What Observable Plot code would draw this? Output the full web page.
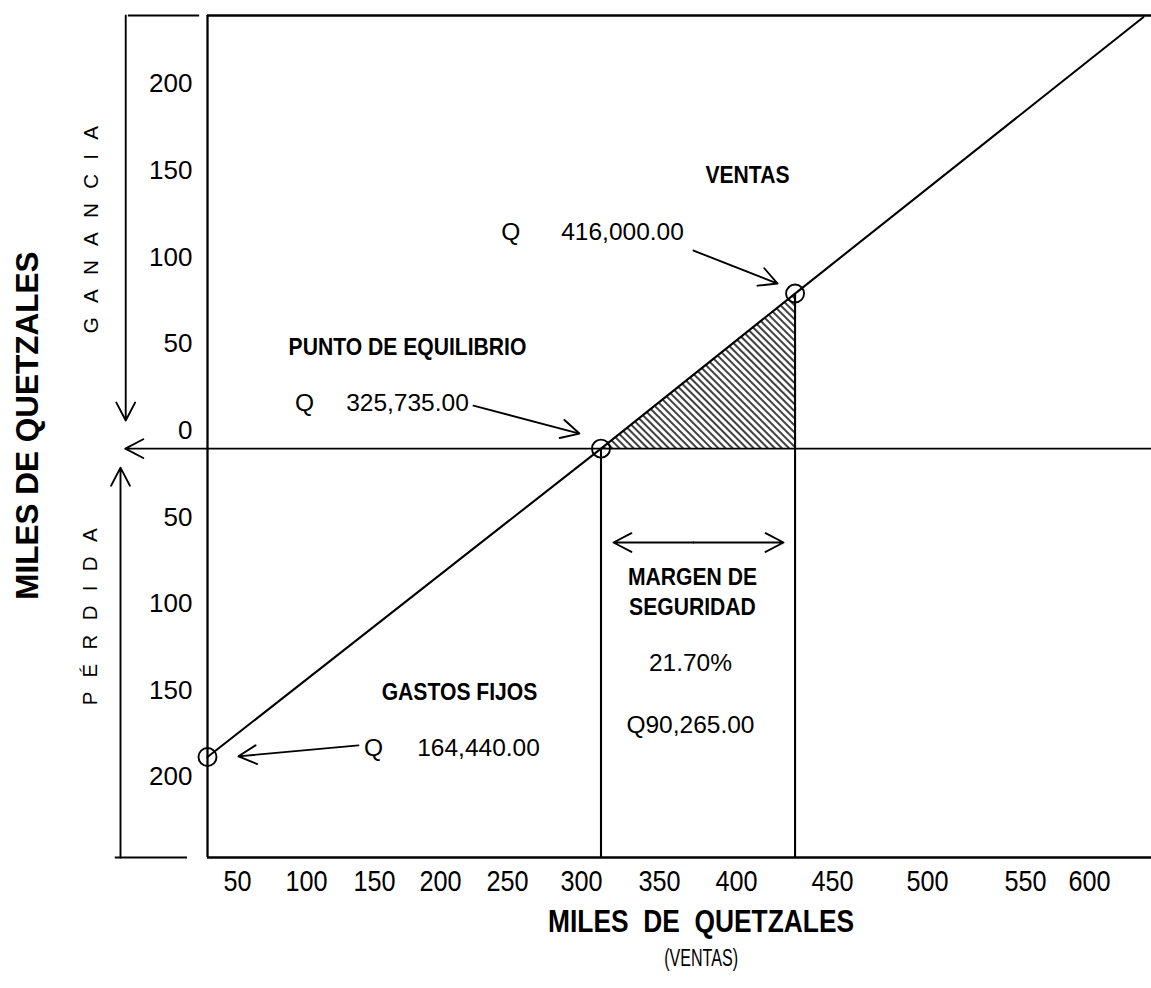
<!DOCTYPE html>
<html><head><meta charset="utf-8">
<script src="https://cdn.jsdelivr.net/npm/d3@7"></script>
<script src="https://cdn.jsdelivr.net/npm/@observablehq/plot@0.6"></script>
<style>
html,body{margin:0;padding:0;background:#fff;}
#chart svg{display:block;}
#chart text{white-space:pre;}
</style></head><body><div id="chart"></div>
<script>
// ---- tick labels (miles de quetzales) ----
const xTickValues = [50,100,150,200,250,300,350,400,450,500,550,600];
const yTickValues = [200,150,100,50,0,-50,-100,-150,-200];

// ---- key points: x = ventas, y = ganancia (+) / pérdida (−) ----
const fixedCost   = {x: 0,     y: -178};
const breakEven   = {x: 312.5, y: 0};
const salesPoint  = {x: 430.5, y: 89.5};
const salesLineEnd = {x: 642,  y: 249};
const keyPoints  = [fixedCost, breakEven, salesPoint];
const salesLine  = [fixedCost, breakEven, salesPoint, salesLineEnd];
const profitArea = [breakEven, salesPoint];

// ---- annotation texts ----
const boldNotes = [
  {text: "VENTAS",              x: 405.7, y: 157.6},
  {text: "PUNTO DE EQUILIBRIO", x: 175,   y: 58.4},
  {text: "MARGEN DE",           x: 371.4, y: -74.4},
  {text: "SEGURIDAD",           x: 371.4, y: -91.7},
  {text: "GASTOS FIJOS",        x: 214.2, y: -140.7}
];
const plainNotes = [
  {text: "Q",          x: 252.2, y: 124.7},
  {text: "416,000.00", x: 326.3, y: 124.7},
  {text: "Q",          x: 98.6,  y: 26},
  {text: "325,735.00", x: 175,   y: 26},
  {text: "21.70%",     x: 370.1, y: -124},
  {text: "Q90,265.00", x: 370.1, y: -159.8},
  {text: "Q",          x: 149.3, y: -173},
  {text: "164,440.00", x: 228.4, y: -173}
];
const pointers = [
  {x1: 372.1, y1: 114.3, x2: 421.4, y2: 95.3},
  {x1: 224.6, y1: 24.8,  x2: 298.6, y2: 8.7},
  {x1: 138.2, y1: -171.3, x2: 50.7, y2: -177.6},
  {x1: 372,   y1: -54.2, x2: 320.5, y2: -54.2},
  {x1: 372,   y1: -54.2, x2: 424.5, y2: -54.2}
];

// ---- frame and side brackets ----
const frameBox = {left: 0, right: 650, top: 250, bottom: -236};
const bracketArrows = [
  {x1: -94,  y1: 250,  x2: -94,   y2: 16.2},   // ganancia
  {x1: -100, y1: -236, x2: -100,  y2: -11},    // pérdida
  {x1: 650,  y1: 0,    x2: -94.5, y2: 0}       // línea cero
];

// hand-drawn, unevenly spaced horizontal axis: piecewise scale transform
const xAxisStops = [-100, 0, 50, 100, 150, 200, 250, 300, 350, 400, 450, 500, 550, 600, 650];
const xAxisPlace = d3.scaleLinear()
  .domain(xAxisStops)
  .range([120, 207, 237, 306, 374, 440, 507, 581, 659, 736, 832, 927, 1025, 1089, 1153]);

const FONT = "Liberation Sans, Arial, sans-serif";

const svg = Plot.plot({
  width: 1151, height: 988,
  style: {background: "#fff", color: "#000"},
  x: {transform: xAxisPlace, domain: [0, 1151], range: [0, 1151], axis: null},
  y: {domain: [frameBox.bottom, frameBox.top], range: [857, 15], axis: null},
  marks: [
    Plot.areaY(profitArea, {x: "x", y1: 0, y2: "y", fill: "url(#hatch)", stroke: "none"}),
    Plot.ruleY([frameBox.top], {x1: 0, x2: frameBox.right, stroke: "#000", strokeWidth: 2.3}),
    Plot.ruleY([frameBox.bottom], {x1: 0, x2: frameBox.right, stroke: "#000", strokeWidth: 2.3}),
    Plot.ruleX([frameBox.left], {y1: frameBox.bottom, y2: frameBox.top, stroke: "#000", strokeWidth: 2.3}),
    Plot.ruleY([frameBox.top], {x1: -91, x2: -9, stroke: "#000", strokeWidth: 2.1}),
    Plot.ruleY([frameBox.bottom], {x1: -106, x2: -23, stroke: "#000", strokeWidth: 2.1}),
    Plot.arrow(bracketArrows, {x1: "x1", y1: "y1", x2: "x2", y2: "y2", stroke: "#000", strokeWidth: 1.9, headLength: 16, headAngle: 55}),
    Plot.ruleX([breakEven], {x: "x", y1: frameBox.bottom, y2: "y", stroke: "#000", strokeWidth: 2.1}),
    Plot.ruleX([salesPoint], {x: "x", y1: frameBox.bottom, y2: "y", stroke: "#000", strokeWidth: 2.1}),
    Plot.line(salesLine, {x: "x", y: "y", stroke: "#000", strokeWidth: 2.1}),
    Plot.dot(keyPoints, {x: "x", y: "y", r: 9, stroke: "#000", strokeWidth: 1.9, fill: "none"}),
    Plot.arrow(pointers, {x1: "x1", y1: "y1", x2: "x2", y2: "y2", stroke: "#000", strokeWidth: 1.9, headLength: 16, headAngle: 55}),
    // text marks (order matters for the condensing step below)
    Plot.text(yTickValues, {x: 0, y: d => d, text: d => String(Math.abs(d)), textAnchor: "end", dx: -15, dy: -18, fontSize: 26, fontFamily: FONT, fill: "#000"}),
    Plot.text(xTickValues, {x: d => d, y: frameBox.bottom, text: d => String(d), dy: 24, fontSize: 30, fontFamily: FONT, fill: "#000"}),
    Plot.text(boldNotes, {x: "x", y: "y", text: "text", fontSize: 24, fontWeight: "bold", fontFamily: FONT, fill: "#000"}),
    Plot.text(plainNotes, {x: "x", y: "y", text: "text", fontSize: 24.5, fontFamily: FONT, fill: "#000"}),
    Plot.text(["MILES  DE  QUETZALES"], {x: 377, y: frameBox.bottom, dy: 65, text: d => d, fontSize: 31, fontWeight: "bold", fontFamily: FONT, fill: "#000"}),
    Plot.text(["(VENTAS)"], {x: 377, y: frameBox.bottom, dy: 101, text: d => d, fontSize: 23, fontFamily: FONT, fill: "#000"}),
    Plot.text(["MILES DE QUETZALES"], {x: -206, y: 13.3, text: d => d, rotate: -90, fontSize: 31.5, fontWeight: "bold", fontFamily: FONT, fill: "#000"}),
    Plot.text(["GANANCIA"], {x: -133, y: 130.5, text: d => d, rotate: -90, fontSize: 20.5, fontFamily: FONT, fill: "#000"}),
    Plot.text(["PÉRDIDA"], {x: -135, y: -93, text: d => d, rotate: -90, fontSize: 20.5, fontFamily: FONT, fill: "#000"})
  ]
});

const s = d3.select(svg);
s.insert("defs", ":first-child").html(
  '<pattern id="hatch" width="5" height="5" patternUnits="userSpaceOnUse" patternTransform="rotate(-45)">' +
  '<line x1="1" y1="-1" x2="1" y2="7" stroke="#000" stroke-width="1.5"/></pattern>');
document.getElementById("chart").appendChild(svg);

// condensed lettering of the original (narrow typefaces are not installed)
// index of text mark group -> horizontal compression
const condenseByGroup = new Map([[1, 0.84], [2, 0.88], [4, 0.85], [5, 0.7]]);
s.selectAll("g[aria-label='text']").each(function(_, i) {
  const k = condenseByGroup.get(i);
  d3.select(this).selectAll("text").each(function() {
    const t = this.textContent;
    if (t === "GANANCIA" || t === "PÉRDIDA") this.setAttribute("letter-spacing", "14.3");
    if (k) {
      const w = this.getComputedTextLength();
      this.setAttribute("textLength", (w * k).toFixed(1));
      this.setAttribute("lengthAdjust", "spacingAndGlyphs");
    }
  });
});
</script>
</body></html>
